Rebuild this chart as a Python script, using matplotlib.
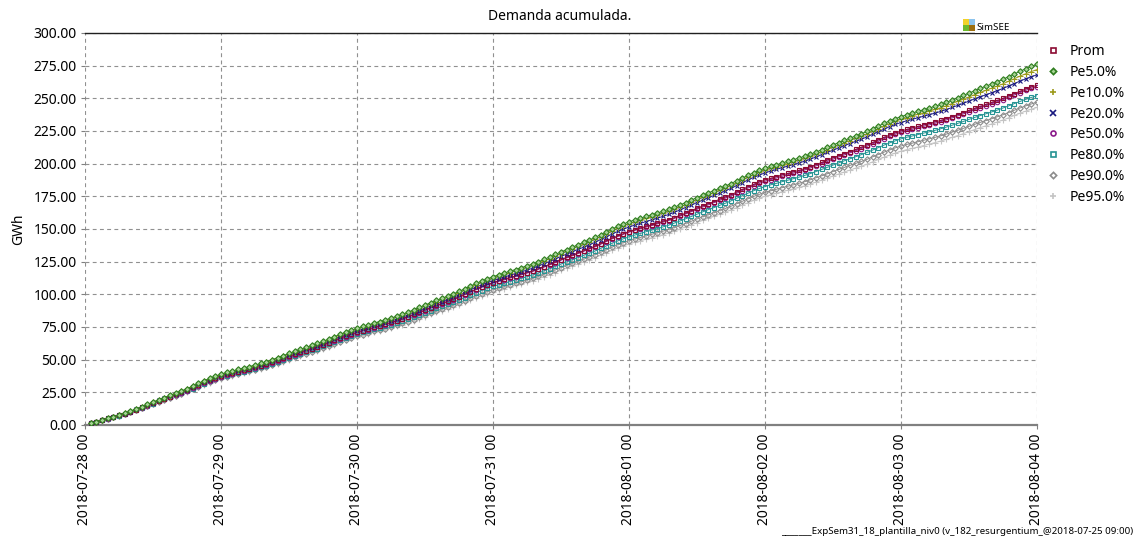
import matplotlib
matplotlib.use("Agg")
import matplotlib.pyplot as plt
import matplotlib.dates as mdates
from matplotlib.lines import Line2D
from matplotlib.patches import Rectangle
import pandas as pd

plt.rcParams['font.family'] = ['Noto Sans', 'DejaVu Sans']

# ---------------- data ----------------
title = "Demanda acumulada."
ylabel = "GWh"
footer = "_______ExpSem31_18_plantilla_niv0 (v_182_resurgentium_@2018-07-25 09:00)"
start_time = "2018-07-28 01:00"
n_hours = 168
x_start = "2018-07-28 00:00"
x_end = "2018-08-04 00:00"

series_names = ["Prom", "Pe5.0%", "Pe10.0%", "Pe20.0%", "Pe50.0%", "Pe80.0%", "Pe90.0%", "Pe95.0%"]

prom = [1.3,2.5,3.8,5.0,6.2,7.4,8.7,10.2,11.8,13.4,15.2,16.9,18.6,20.2,21.8,23.4,25.1,26.8,28.7,30.6,32.6,34.4,36.0,37.5,
        38.7,39.7,40.8,41.9,43.0,44.1,45.3,46.6,48.1,49.5,51.0,52.6,54.1,55.6,57.0,58.4,59.9,61.4,63.1,64.9,66.6,68.2,69.7,71.0,
        72.3,73.5,74.8,76.0,77.2,78.5,79.8,81.3,83.0,84.6,86.4,88.1,89.8,91.5,93.1,94.8,96.4,98.1,100.1,102.0,104.0,105.8,107.5,109.0,
        110.4,111.6,112.9,114.1,115.4,116.7,118.0,119.6,121.3,123.0,124.8,126.6,128.3,130.0,131.7,133.4,135.1,136.8,138.8,140.9,142.9,144.7,146.4,148.0,
        149.4,150.6,152.0,153.2,154.5,155.8,157.2,158.7,160.4,162.1,164.0,165.8,167.6,169.3,171.0,172.7,174.4,176.2,178.2,180.3,182.3,184.2,185.9,187.5,
        188.8,190.0,191.3,192.5,193.7,194.9,196.2,197.7,199.3,200.9,202.7,204.4,206.1,207.7,209.3,210.9,212.6,214.3,216.2,218.1,220.1,221.9,223.5,225.0,
        226.2,227.3,228.5,229.6,230.7,231.9,233.1,234.5,236.0,237.5,239.1,240.8,242.4,243.9,245.4,246.9,248.4,250.0,251.8,253.6,255.4,257.1,258.6,260.0]

pe5 = [1.4,2.6,3.9,5.1,6.4,7.7,9.0,10.6,12.3,14.0,15.8,17.6,19.3,21.0,22.7,24.4,26.1,27.8,29.8,31.9,33.9,35.7,37.4,39.0,
       40.2,41.3,42.5,43.6,44.7,45.9,47.1,48.5,50.0,51.5,53.1,54.8,56.4,57.9,59.4,60.9,62.4,64.0,65.8,67.6,69.4,71.1,72.6,74.0,
       75.4,76.6,78.0,79.2,80.5,81.8,83.2,84.7,86.4,88.1,90.0,91.8,93.6,95.3,97.0,98.7,100.4,102.2,104.2,106.3,108.3,110.2,111.9,113.5,
       115.0,116.3,117.7,119.0,120.4,121.8,123.2,124.9,126.7,128.5,130.5,132.4,134.3,136.1,137.9,139.8,141.6,143.5,145.6,147.8,150.0,152.0,153.8,155.5,
       156.9,158.2,159.6,160.9,162.2,163.6,165.0,166.7,168.4,170.2,172.1,174.0,175.8,177.6,179.4,181.1,182.9,184.8,186.9,189.0,191.1,193.1,194.9,196.5,
       197.9,199.1,200.5,201.7,203.0,204.3,205.7,207.2,208.9,210.6,212.5,214.3,216.1,217.8,219.5,221.2,222.9,224.7,226.7,228.8,230.8,232.7,234.4,236.0,
       237.4,238.7,240.0,241.3,242.6,243.9,245.3,246.9,248.6,250.3,252.2,254.0,255.8,257.6,259.3,261.0,262.7,264.6,266.6,268.7,270.7,272.6,274.4,276.0]

pe10 = [1.3,2.6,3.9,5.1,6.3,7.6,8.9,10.5,12.1,13.8,15.6,17.3,19.1,20.8,22.4,24.1,25.7,27.5,29.5,31.5,33.4,35.3,37.0,38.5,
        39.7,40.8,42.0,43.1,44.2,45.4,46.6,48.0,49.5,51.0,52.6,54.3,55.9,57.4,58.9,60.4,61.9,63.5,65.3,67.1,68.9,70.6,72.1,73.5,
        74.9,76.1,77.4,78.6,79.9,81.2,82.5,84.1,85.8,87.5,89.3,91.1,92.8,94.5,96.2,97.9,99.6,101.3,103.3,105.4,107.4,109.2,110.9,112.5,
        114.0,115.3,116.7,118.0,119.3,120.7,122.1,123.8,125.6,127.4,129.3,131.2,133.1,134.9,136.7,138.4,140.2,142.1,144.2,146.4,148.5,150.5,152.3,154.0,
        155.4,156.7,158.1,159.4,160.7,162.1,163.5,165.2,166.9,168.7,170.6,172.5,174.3,176.1,177.9,179.6,181.4,183.3,185.4,187.5,189.6,191.6,193.4,195.0,
        196.4,197.6,198.9,200.1,201.4,202.7,204.0,205.6,207.3,209.0,210.8,212.6,214.3,216.0,217.7,219.4,221.1,222.8,224.8,226.9,228.9,230.7,232.4,234.0,
        235.3,236.5,237.8,239.0,240.2,241.5,242.8,244.3,246.0,247.6,249.4,251.1,252.8,254.5,256.1,257.8,259.4,261.1,263.1,265.0,267.0,268.8,270.5,272.0]

pe20 = [1.3,2.5,3.8,5.0,6.2,7.5,8.8,10.3,12.0,13.6,15.4,17.1,18.8,20.5,22.1,23.8,25.4,27.1,29.1,31.0,33.0,34.8,36.5,38.0,
        39.2,40.3,41.4,42.5,43.6,44.7,45.9,47.2,48.7,50.2,51.7,53.3,54.9,56.3,57.8,59.3,60.7,62.3,64.0,65.8,67.5,69.1,70.6,72.0,
        73.3,74.6,75.9,77.1,78.3,79.6,80.9,82.5,84.1,85.8,87.6,89.3,91.1,92.8,94.4,96.1,97.7,99.5,101.5,103.5,105.4,107.3,109.0,110.5,
        111.9,113.2,114.6,115.9,117.2,118.6,120.0,121.7,123.4,125.2,127.1,129.0,130.8,132.6,134.4,136.1,137.9,139.8,141.9,144.0,146.1,148.1,149.9,151.5,
        153.0,154.3,155.7,157.0,158.3,159.7,161.1,162.8,164.6,166.4,168.3,170.2,172.1,173.9,175.7,177.4,179.2,181.1,183.2,185.4,187.5,189.5,191.3,193.0,
        194.3,195.6,196.9,198.1,199.3,200.6,201.9,203.5,205.1,206.8,208.6,210.3,212.1,213.8,215.4,217.1,218.7,220.5,222.5,224.5,226.4,228.3,230.0,231.5,
        232.8,233.9,235.2,236.3,237.5,238.7,240.0,241.4,243.0,244.6,246.2,247.9,249.6,251.2,252.7,254.3,255.9,257.6,259.4,261.3,263.2,264.9,266.5,268.0]

pe50 = [1.3,2.5,3.7,4.9,6.1,7.3,8.6,10.1,11.7,13.2,14.9,16.7,18.4,19.9,21.5,23.1,24.7,26.4,28.3,30.2,32.1,33.9,35.5,37.0,
        38.2,39.2,40.3,41.4,42.5,43.6,44.8,46.1,47.6,49.0,50.5,52.1,53.6,55.1,56.5,57.9,59.4,60.9,62.6,64.4,66.1,67.7,69.2,70.5,
        71.8,73.0,74.3,75.5,76.7,78.0,79.3,80.8,82.5,84.1,85.9,87.6,89.3,91.0,92.6,94.3,95.9,97.6,99.6,101.5,103.5,105.3,107.0,108.5,
        109.9,111.1,112.4,113.6,114.9,116.2,117.5,119.1,120.8,122.5,124.3,126.1,127.8,129.5,131.2,132.9,134.6,136.3,138.3,140.4,142.4,144.2,145.9,147.5,
        148.9,150.1,151.4,152.6,153.9,155.2,156.5,158.1,159.8,161.5,163.3,165.1,166.8,168.5,170.2,171.9,173.6,175.3,177.3,179.4,181.4,183.2,184.9,186.5,
        187.8,189.0,190.3,191.5,192.7,193.9,195.2,196.7,198.3,199.9,201.7,203.4,205.1,206.7,208.3,209.9,211.6,213.3,215.2,217.1,219.1,220.9,222.5,224.0,
        225.2,226.3,227.5,228.6,229.7,230.9,232.1,233.5,235.0,236.5,238.1,239.8,241.4,242.9,244.4,245.9,247.4,249.0,250.8,252.6,254.4,256.1,257.6,259.0]

pe80 = [1.3,2.4,3.7,4.8,6.0,7.2,8.5,9.9,11.5,13.1,14.7,16.4,18.1,19.7,21.2,22.8,24.4,26.1,27.9,29.8,31.7,33.4,35.0,36.5,
        37.7,38.7,39.8,40.9,41.9,43.0,44.2,45.5,46.9,48.3,49.8,51.4,52.9,54.3,55.7,57.1,58.5,60.1,61.7,63.5,65.1,66.7,68.2,69.5,
        70.8,71.9,73.2,74.3,75.5,76.7,78.0,79.4,81.0,82.6,84.2,85.9,87.6,89.2,90.7,92.3,93.9,95.6,97.4,99.3,101.2,102.9,104.5,106.0,
        107.3,108.5,109.8,111.0,112.2,113.5,114.8,116.3,118.0,119.6,121.4,123.1,124.8,126.5,128.1,129.8,131.4,133.1,135.1,137.0,139.0,140.8,142.5,144.0,
        145.3,146.6,147.9,149.1,150.3,151.6,152.9,154.5,156.1,157.8,159.6,161.3,163.1,164.8,166.4,168.1,169.7,171.5,173.5,175.5,177.4,179.3,181.0,182.5,
        183.8,184.9,186.2,187.3,188.5,189.7,191.0,192.4,194.0,195.6,197.2,198.9,200.6,202.2,203.7,205.3,206.9,208.6,210.4,212.3,214.2,215.9,217.5,219.0,
        220.2,221.2,222.3,223.4,224.4,225.5,226.7,228.0,229.4,230.8,232.3,233.9,235.4,236.8,238.2,239.6,241.0,242.6,244.2,246.0,247.6,249.2,250.7,252.0]

pe90 = [1.3,2.4,3.6,4.8,5.9,7.1,8.4,9.8,11.3,12.9,14.5,16.2,17.9,19.4,21.0,22.5,24.0,25.7,27.5,29.4,31.2,33.0,34.6,36.0,
        37.1,38.1,39.2,40.2,41.2,42.3,43.4,44.7,46.1,47.5,48.9,50.4,51.9,53.2,54.6,56.0,57.4,58.8,60.5,62.1,63.8,65.3,66.7,68.0,
        69.2,70.4,71.6,72.7,73.8,75.0,76.2,77.7,79.2,80.7,82.3,84.0,85.6,87.1,88.7,90.2,91.7,93.3,95.2,97.0,98.8,100.5,102.1,103.5,
        104.8,106.0,107.3,108.5,109.7,110.9,112.2,113.7,115.3,116.9,118.7,120.4,122.1,123.7,125.3,126.9,128.6,130.3,132.2,134.1,136.1,137.9,139.5,141.0,
        142.3,143.5,144.7,145.9,147.1,148.3,149.6,151.1,152.7,154.2,155.9,157.7,159.4,160.9,162.5,164.1,165.7,167.4,169.3,171.2,173.1,174.9,176.5,178.0,
        179.2,180.4,181.6,182.7,183.8,185.0,186.2,187.7,189.2,190.7,192.3,194.0,195.6,197.1,198.7,200.2,201.7,203.3,205.2,207.0,208.8,210.5,212.1,213.5,
        214.7,215.7,216.8,217.9,219.0,220.1,221.3,222.6,224.1,225.5,227.0,228.6,230.1,231.6,233.0,234.4,235.9,237.4,239.1,240.9,242.6,244.2,245.7,247.0]

pe95 = [1.2,2.4,3.6,4.7,5.8,7.0,8.2,9.7,11.2,12.7,14.3,16.0,17.6,19.1,20.7,22.2,23.7,25.3,27.2,29.0,30.8,32.5,34.1,35.5,
        36.6,37.6,38.7,39.7,40.7,41.8,42.9,44.2,45.6,47.0,48.4,49.9,51.4,52.7,54.1,55.5,56.9,58.3,60.0,61.6,63.3,64.8,66.2,67.5,
        68.7,69.8,71.0,72.1,73.2,74.3,75.5,76.9,78.4,79.9,81.4,83.0,84.6,86.1,87.6,89.1,90.5,92.1,93.9,95.7,97.4,99.1,100.6,102.0,
        103.3,104.4,105.7,106.8,108.0,109.2,110.5,111.9,113.5,115.1,116.7,118.4,120.1,121.7,123.2,124.8,126.4,128.1,129.9,131.8,133.7,135.4,137.0,138.5,
        139.8,140.9,142.2,143.3,144.5,145.7,147.0,148.4,150.0,151.6,153.2,154.9,156.6,158.2,159.7,161.3,162.9,164.6,166.4,168.3,170.2,171.9,173.5,175.0,
        176.2,177.3,178.5,179.6,180.7,181.8,183.0,184.4,185.9,187.4,188.9,190.5,192.1,193.6,195.1,196.6,198.0,199.6,201.4,203.2,204.9,206.6,208.1,209.5,
        210.7,211.7,212.8,213.9,215.0,216.1,217.3,218.6,220.1,221.5,223.0,224.6,226.1,227.6,229.0,230.4,231.9,233.4,235.1,236.9,238.6,240.2,241.7,243.0]

series_values = [prom, pe5, pe10, pe20, pe50, pe80, pe90, pe95]

# ---------------- styles ----------------
styles = [
    dict(color='#8B0A32', marker='s', mfc='none'),
    dict(color='#2E7D1E', marker='D', mfc='#A8D496'),
    dict(color='#9C9A1A', marker='+', mfc='none'),
    dict(color='#1A1A80', marker='x', mfc='none'),
    dict(color='#8A1A8A', marker='o', mfc='none'),
    dict(color='#269494', marker='s', mfc='none'),
    dict(color='#8C8C8C', marker='D', mfc='none'),
    dict(color='#C4C4C4', marker='+', mfc='none'),
]
msizes = [3.2, 2.8, 4.0, 3.4, 3.2, 3.2, 2.8, 4.0]

times = pd.date_range(start_time, periods=n_hours, freq='h')

W, H = 1138, 539
fig = plt.figure(figsize=(W / 100, H / 100), dpi=100)
ax = fig.add_axes([85 / W, 1 - 425 / H, (1037 - 85) / W, (425 - 33) / H])

# draw from bottom series to top series
order = [7, 6, 5, 4, 0, 3, 2, 1]
for k, i in enumerate(order):
    st = styles[i]
    ax.plot(times, series_values[i], color=st['color'], lw=0.7,
            marker=st['marker'], markersize=msizes[i], mfc=st['mfc'],
            mec=st['color'], mew=0.8, zorder=3 + k * 0.01)

ax.set_xlim(pd.Timestamp(x_start), pd.Timestamp(x_end))
ax.set_ylim(0, 300)
ax.set_yticks([i * 25 for i in range(13)])
ax.yaxis.set_major_formatter(matplotlib.ticker.FormatStrFormatter('%.2f'))
ax.xaxis.set_major_locator(mdates.DayLocator())
ax.xaxis.set_major_formatter(mdates.DateFormatter('%Y-%m-%d %H'))
for lab in ax.get_xticklabels():
    lab.set_rotation(90)

ax.tick_params(axis='both', labelsize=10, length=3, color='#808080', width=0.8)
ax.tick_params(axis='y', pad=3)
ax.tick_params(axis='x', pad=3)

ax.grid(True, linestyle=(0, (3.5, 3)), color='#909090', linewidth=0.8, zorder=1)
ax.set_axisbelow(True)

for s in ['left', 'right']:
    ax.spines[s].set_visible(False)
ax.spines['top'].set_color('#202020')
ax.spines['top'].set_linewidth(1.0)
ax.spines['bottom'].set_color('#808080')
ax.spines['bottom'].set_linewidth(1.6)

ax.set_ylabel(ylabel, fontsize=10)
ax.yaxis.set_label_coords(-0.062, 0.5)
fig.text(560 / W, 1 - 16 / H, title, ha='center', va='center', fontsize=10)

# legend
handles = [Line2D([], [], linestyle='none', marker=styles[i]['marker'], markersize=msizes[i] + 0.4,
                  mfc=styles[i]['mfc'], mec=styles[i]['color'], mew=1.2, color=styles[i]['color'])
           for i in range(8)]
fig.legend(handles, series_names, loc='upper left', bbox_to_anchor=(1047 / W, 1 - 44 / H),
           frameon=False, fontsize=10, handlelength=0.8, handletextpad=0.8,
           labelspacing=0.42, borderaxespad=0, borderpad=0)

# SimSEE logo
logo_cols = [['#F2D22A', '#8CC4EE'], ['#6CB92C', '#9C6E10']]
x0, y0, sq = 963, 19, 5.5
for r in range(2):
    for c in range(2):
        fig.add_artist(Rectangle(((x0 + c * (sq + 0.8)) / W, 1 - (y0 + (r + 1) * sq + r * 0.8) / H),
                                 sq / W, sq / H, transform=fig.transFigure,
                                 facecolor=logo_cols[r][c], edgecolor='none'))
fig.text(976 / W, 1 - 28 / H, "SimSEE", fontsize=7, ha='left', va='center',
         bbox=dict(facecolor='white', edgecolor='none', pad=0.5))

fig.text(1133 / W, 1 - 532 / H, footer, fontsize=7, ha='right', va='center')

fig.savefig('out.png', dpi=100)
